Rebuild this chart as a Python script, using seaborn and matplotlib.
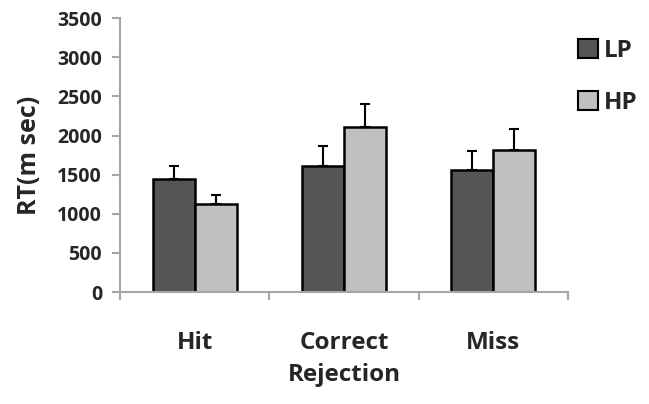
import matplotlib
matplotlib.use("Agg")
import matplotlib.pyplot as plt
from matplotlib.ticker import FixedLocator
import seaborn as sns
import pandas as pd
import numpy as np

# data
conditions = ["Hit", "Correct\nRejection", "Miss"]
lp_rt = [1443, 1612, 1558]
hp_rt = [1120, 2111, 1822]
lp_err = [170, 253, 243]
hp_err = [115, 290, 268]

df = pd.DataFrame({
    "cond": conditions * 2,
    "group": ["LP"] * 3 + ["HP"] * 3,
    "rt": lp_rt + hp_rt,
})

sns.set_style("white")
plt.rcParams["font.family"] = ["Open Sans", "DejaVu Sans"]
plt.rcParams["font.weight"] = "bold"

fig = plt.figure(figsize=(6.49, 4.04), dpi=100)
ax = fig.add_axes([0.185, 0.277, 0.69, 0.678])

colors = {"LP": "#555555", "HP": "#c0c0c0"}
sns.barplot(data=df, x="cond", y="rt", hue="group", palette=colors,
            width=0.565, edgecolor="black", linewidth=1.8, ax=ax,
            errorbar=None, legend=False)

# upward-only error bars on each bar
errs = {"LP": lp_err, "HP": hp_err}
for cont, grp in zip(ax.containers, ["LP", "HP"]):
    xs = [p.get_x() + p.get_width() / 2 for p in cont.patches]
    ys = [p.get_height() for p in cont.patches]
    ax.errorbar(xs, ys, yerr=[np.zeros(3), errs[grp]], fmt="none",
                ecolor="black", elinewidth=1.5, capsize=3.5, capthick=1.5,
                zorder=1)

ax.set_ylim(0, 3500)
ax.set_xlim(-0.5, 2.5)
ax.set_yticks(range(0, 3501, 500))
ax.set_xlabel("")
ax.set_ylabel("RT(m sec)", fontsize=18, fontweight="bold", labelpad=11)

for s in ["top", "right"]:
    ax.spines[s].set_visible(False)
for s in ["left", "bottom"]:
    ax.spines[s].set_color("#a6a6a6")
    ax.spines[s].set_linewidth(1.5)

ax.tick_params(axis="y", length=6, width=1.5, color="#a6a6a6", labelsize=14, pad=7, left=True)
ax.tick_params(axis="x", which="major", length=0, labelsize=17.5, pad=28)
ax.xaxis.set_minor_locator(FixedLocator([-0.5, 0.5, 1.5, 2.5]))
ax.tick_params(axis="x", which="minor", length=6, width=1.5, color="#a6a6a6", bottom=True)
for t in ax.get_xticklabels() + ax.get_yticklabels():
    t.set_fontweight("bold")
for t in ax.get_xticklabels():
    t.set_linespacing(1.45)

handles = [plt.Rectangle((0, 0), 1, 1, facecolor=colors[g], edgecolor="black", linewidth=1.5)
           for g in ["LP", "HP"]]
fig.legend(handles, ["LP", "HP"], loc="upper left", bbox_to_anchor=(0.865, 0.945),
           frameon=False, prop={"size": 17.5, "weight": "bold"},
           handlelength=0.8, handleheight=0.8, handletextpad=0.25, labelspacing=1.15,
           borderaxespad=0.3)

fig.savefig("out.png", dpi=100)
